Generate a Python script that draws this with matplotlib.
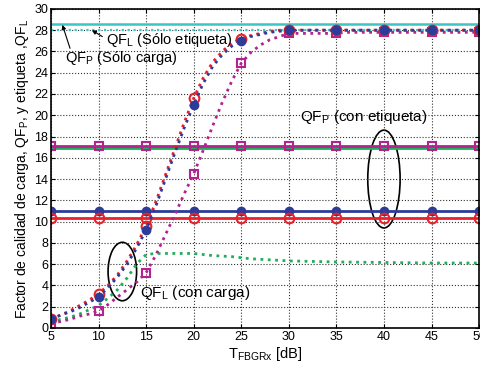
import matplotlib
matplotlib.use("Agg")
import matplotlib.pyplot as plt
from matplotlib.patches import Ellipse

plt.rcParams['font.family'] = ['Liberation Sans', 'DejaVu Sans']

# marker positions (every 5 dB)
t_marks = [5, 10, 15, 20, 25, 30, 35, 40, 45, 50]

# dense curves, 1 dB steps
t_fine = list(range(5, 51))
qf_red_dot = [0.8, 1.2, 1.6, 2.1, 2.6, 3.2, 4.0, 5.0, 6.3, 7.8, 9.6, 11.8, 14.3, 16.8, 19.3,
              21.6, 23.5, 25.0, 26.0, 26.8, 27.2, 27.5, 27.7, 27.9, 28.0] + [28.0] * 21
qf_blue_dot = [0.8, 1.2, 1.5, 1.9, 2.4, 2.9, 3.8, 4.8, 6.0, 7.5, 9.2, 11.4, 13.9, 16.4, 18.8,
               21.0, 23.0, 24.6, 25.7, 26.5, 27.0, 27.4, 27.6, 27.8, 27.9] + [28.0] * 21
qf_mag_dot = [0.4, 0.6, 0.8, 1.1, 1.3, 1.6, 2.2, 2.9, 3.6, 4.3, 5.2, 6.8, 8.7, 10.6, 12.6,
              14.5, 16.7, 19.0, 21.2, 23.2, 24.9, 25.9, 26.6, 27.1, 27.4] + [27.7] * 6 + [27.8] * 15
qf_green_dot = [0.5, 0.8, 1.0, 1.3, 1.7, 2.1, 2.8, 3.6, 4.7, 6.0, 6.9, 7.0, 7.0, 7.0, 7.0,
                7.0, 6.9, 6.8, 6.75, 6.7, 6.6, 6.5, 6.45, 6.4, 6.35, 6.3, 6.28, 6.26, 6.24, 6.22,
                6.2, 6.19, 6.18, 6.17, 6.16, 6.15, 6.14, 6.13, 6.12, 6.11, 6.1, 6.1, 6.1, 6.1, 6.1, 6.1]

# constant reference levels
qf_p_solo_carga = 28.6
qf_l_solo_etiqueta = 28.0
qf_green_solid = 16.9
qf_mag_solid = 17.1
qf_blue_solid = 11.0
qf_red_solid = 10.3

cyan = '#3fc4c4'
green = '#1fae5c'
magenta = '#b3228f'
blue = '#2c3c98'
red = '#e8212b'

fig = plt.figure(figsize=(4.81, 3.73), dpi=100)
ax = fig.add_axes([0.106, 0.121, 0.890, 0.855])

# horizontal levels
ax.plot(t_marks, [qf_p_solo_carga] * len(t_marks), color=cyan, lw=1.8)
ax.plot(t_marks, [qf_l_solo_etiqueta] * len(t_marks), color=cyan, lw=1.6, ls=':')
ax.plot(t_marks, [qf_green_solid] * len(t_marks), color=green, lw=2)
ax.plot(t_marks, [qf_mag_solid] * len(t_marks), color=magenta, lw=2,
        marker='s', ms=6, mfc='none', mew=1.5)
ax.plot(t_marks, [qf_blue_solid] * len(t_marks), color=blue, lw=2,
        marker='o', ms=6)
ax.plot(t_marks, [qf_red_solid] * len(t_marks), color=red, lw=2,
        marker='o', ms=7, mfc='none', mew=1.5)

# dense dotted curves
ax.plot(t_fine, qf_green_dot, color=green, lw=2, ls=':')
ax.plot(t_fine, qf_mag_dot, color=magenta, lw=2, ls=':',
        marker='s', ms=6, mfc='none', mew=1.5, markevery=5)
ax.plot(t_fine, qf_red_dot, color=red, lw=2, ls=':',
        marker='o', ms=7, mfc='none', mew=1.5, markevery=5)
ax.plot(t_fine, qf_blue_dot, color=blue, lw=2, ls=':',
        marker='o', ms=6, markevery=5)

ax.set_xlim(5, 50)
ax.set_ylim(0, 30)
ax.set_xticks(t_marks)
ax.set_yticks(range(0, 31, 2))
ax.tick_params(direction='in', labelsize=9, length=3, top=True, right=True, pad=2)
ax.grid(True, ls=':', color='#333333', lw=0.8)
for s in ax.spines.values():
    s.set_linewidth(1.2)

ax.set_xlabel(r'T$_\mathregular{FBGRx}$ [dB]', fontsize=10.5, labelpad=2)
ax.set_ylabel(r'Factor de calidad de carga, QF$_\mathregular{P}$, y etiqueta ,QF$_\mathregular{L}$',
              fontsize=10, labelpad=2)

# annotations
arrow = dict(arrowstyle='-|>', color='black', lw=0.8, mutation_scale=6, shrinkA=0, shrinkB=0)
ax.text(10.8, 27.1, r'QF$_\mathregular{L}$ (Sólo etiqueta)', fontsize=10.5, ha='left', va='center')
ax.annotate('', xy=(9.3, 28.0), xytext=(10.4, 27.4), arrowprops=arrow)
ax.text(6.5, 25.4, r'QF$_\mathregular{P}$ (Sólo carga)', fontsize=10.5, ha='left', va='center')
ax.annotate('', xy=(6.2, 28.5), xytext=(7.0, 26.3), arrowprops=arrow)
ax.text(31.2, 19.8, r'QF$_\mathregular{P}$ (con etiqueta)', fontsize=11, ha='left', va='center')
ax.text(14.4, 3.3, r'QF$_\mathregular{L}$ (con carga)', fontsize=11, ha='left', va='center')

ax.add_patch(Ellipse((40, 14.0), 3.4, 9.2, fill=False, color='black', lw=1.2))
ax.add_patch(Ellipse((12.5, 5.3), 3.0, 5.5, fill=False, color='black', lw=1.2))

fig.savefig('out.png', dpi=100)
